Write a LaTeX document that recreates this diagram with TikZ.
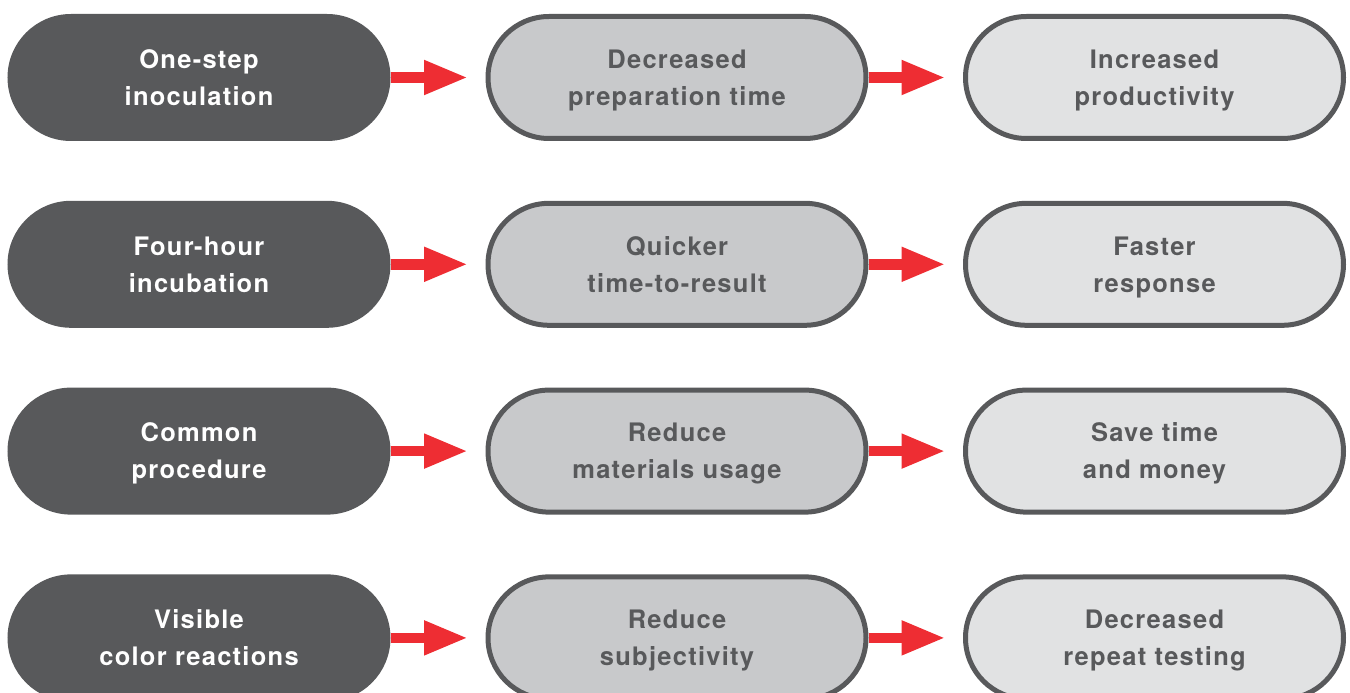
\documentclass[tikz,border=0pt]{standalone}
\usepackage{fontspec}
\setmainfont[LetterSpace=5]{TeX Gyre Heros}
\usepackage{amsmath}
\usetikzlibrary{arrows.meta}
\definecolor{pilldark}{HTML}{58595B}
\definecolor{pillmid}{HTML}{C8C9CB}
\definecolor{pilllight}{HTML}{E1E2E3}
\definecolor{arrowred}{HTML}{EE2D33}
\newcommand{\twolines}[2]{\smash{#1}\vphantom{H}\\\smash[b]{#2}}

\tikzset{
 pill/.style={draw=pilldark, line width=.05cm, rounded corners=.61cm, minimum width=3.78cm, minimum height=1.22cm, inner sep=0, align=center, font=\fontsize{7.25}{10.5}\selectfont\bfseries},
 cause/.style={pill, fill=pilldark, text=white},
 effect/.style={pill, fill=pillmid, text=pilldark},
 result/.style={pill, fill=pilllight, text=pilldark},
 redarrow/.style={arrowred, line width=.105cm, -{Triangle[length=.44cm, width=.32cm]}, shorten >=.175cm}
}

\begin{document}
\begin{tikzpicture}
\useasboundingbox (0,0) rectangle (13.5,-6.93);
\foreach \ca/\cb/\ea/\eb/\ra/\rb [count=\i from 0] in {
 One-step/inoculation/Decreased/preparation time/Increased/productivity,
 Four-hour/incubation/Quicker/time-to-result/Faster/response,
 Common/procedure/Reduce/materials usage/Save time/and money,
 Visible/color reactions/Reduce/subjectivity/Decreased/repeat testing} {
 \node[cause]  (cause\i)  at (1.99,{-0.775-1.868*\i})   {\twolines{\ca}{\cb}};
 \node[effect] (effect\i) at (6.77,{-0.775-1.868*\i})   {\twolines{\ea}{\eb}};
 \node[result] (result\i) at (11.545,{-0.775-1.868*\i}) {\twolines{\ra}{\rb}};
 \draw[redarrow] (cause\i) -- (effect\i);
 \draw[redarrow] (effect\i) -- (result\i);
}
\end{tikzpicture}
\end{document}
